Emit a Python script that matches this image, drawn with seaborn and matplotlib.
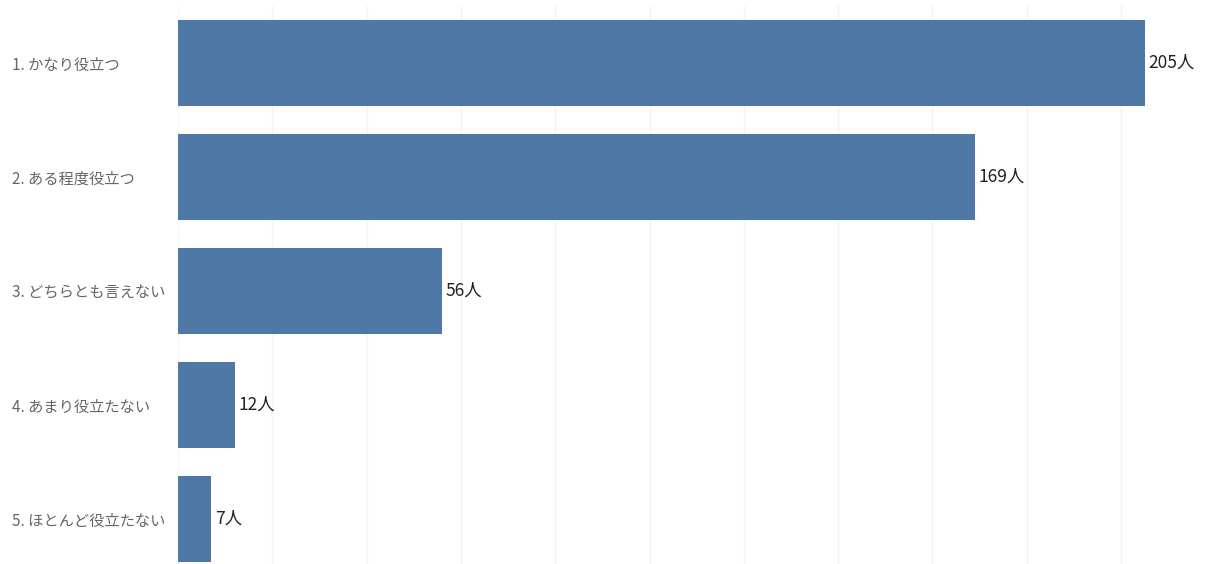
import matplotlib
matplotlib.use("Agg")
import matplotlib.pyplot as plt
import seaborn as sns
import pandas as pd

categories = ["1. かなり役立つ", "2. ある程度役立つ", "3. どちらとも言えない",
              "4. あまり役立たない", "5. ほとんど役立たない"]
counts = [205, 169, 56, 12, 7]
unit = "人"

sns.set_theme(style="white")
plt.rcParams["font.family"] = ["Noto Sans CJK JP", "DejaVu Sans"]

df = pd.DataFrame({"category": categories, "count": counts})

W, H = 1213, 564
fig = plt.figure(figsize=(W / 100, H / 100), dpi=100)
left, right, top, bottom = 178, 1213, 6, 564
ax = fig.add_axes([left / W, 1 - bottom / H, (right - left) / W, (bottom - top) / H])

sns.barplot(data=df, x="count", y="category", color="#4e79a7", saturation=1,
            width=0.75, ax=ax, orient="h", linewidth=0)

ax.set_xlim(0, 219.5)
ax.set_ylim(4.395, -0.5)
ax.set_xticks(range(0, 220, 20))
ax.grid(axis="x", color="#f3f3f3", linewidth=1)
ax.set_axisbelow(True)
ax.tick_params(axis="x", length=0, labelbottom=False)
for s in ax.spines.values():
    s.set_visible(False)
ax.set_xlabel("")
ax.set_ylabel("")

ax.tick_params(axis="y", length=0, pad=(left - 12) * 0.72, labelsize=11, labelcolor="#666666")
for lbl in ax.get_yticklabels():
    lbl.set_horizontalalignment("left")

for i, v in enumerate(counts):
    ax.text(v + 0.8, i, f"{v}{unit}", va="center", ha="left", fontsize=12.5, color="#222222")

fig.savefig("out.png", dpi=100)
